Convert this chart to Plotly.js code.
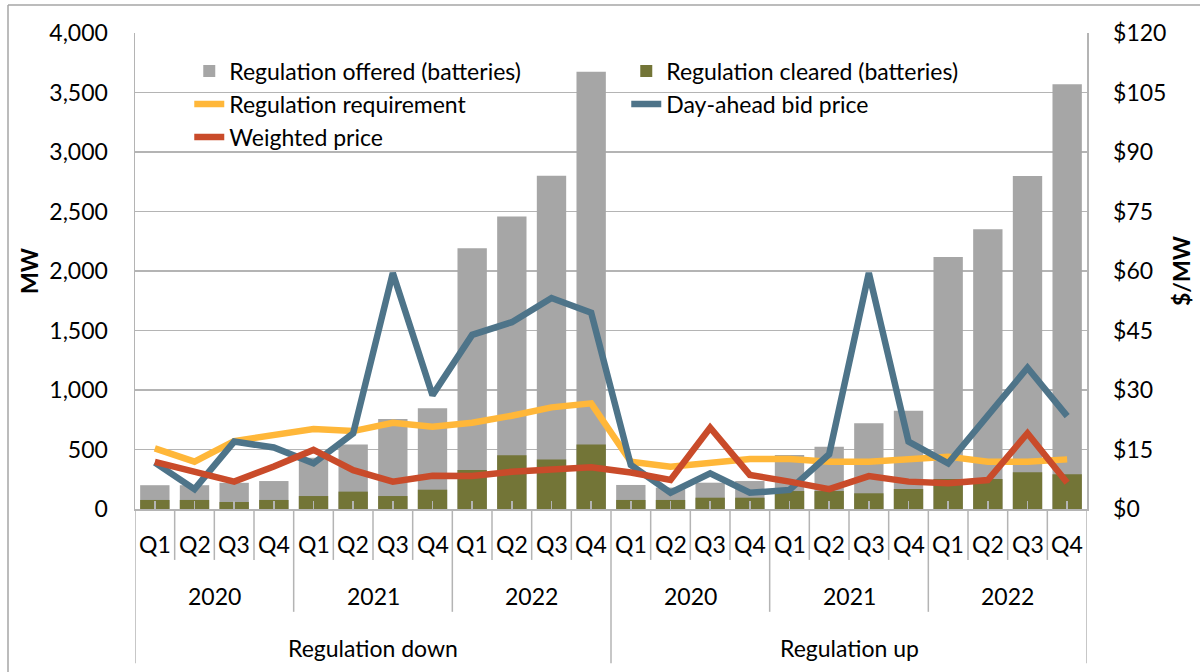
<!DOCTYPE html>
<html>
<head>
<meta charset="utf-8">
<script src="https://cdn.plot.ly/plotly-3.0.1.min.js"></script>
<style>html,body{margin:0;padding:0;background:#fff;}#chart{width:1200px;height:672px;}</style>
</head>
<body>
<div id="chart"></div>
<script>
// ---- data ----
const groups = ["Regulation down", "Regulation up"];
const years = ["2020", "2021", "2022"];
const quarters = ["Q1", "Q2", "Q3", "Q4"];

const offered = [200, 200, 220, 235, 430, 543, 756, 846, 2191, 2457, 2801, 3675,
                 202, 180, 221, 235, 454, 524, 720, 826, 2118, 2350, 2798, 3569];
const cleared = [76, 76, 59, 76, 109, 146, 109, 162, 328, 451, 415, 541,
                 76, 76, 95, 95, 151, 151, 132, 168, 252, 252, 308, 291];
const requirement = [510, 398, 571, 622, 672, 655, 725, 692, 725, 784, 854, 888,
                     398, 356, 392, 420, 420, 398, 398, 417, 440, 398, 398, 417];
const dayAheadBid = [11.7, 5.0, 17.0, 15.5, 11.5, 19.1, 59.5, 28.7, 43.9, 47.1, 53.2, 49.5,
                     11.1, 4.1, 9.0, 4.1, 4.8, 13.8, 59.5, 17.0, 11.5, 23.7, 35.6, 23.4];
const weightedPrice = [11.9, 9.4, 6.9, 10.7, 14.9, 9.8, 6.9, 8.4, 8.3, 9.4, 10.0, 10.5,
                       9.2, 7.3, 20.5, 8.6, 6.9, 5.0, 8.3, 6.9, 6.5, 7.3, 19.1, 6.6];

// ---- build category positions ----
const labels = [];
groups.forEach(g => years.forEach(y => quarters.forEach(q => labels.push(q))));
const xs = labels.map((_, i) => i);
const n = xs.length;
const perGroup = years.length * quarters.length;

const FONT = "Lato, 'Open Sans', sans-serif";
const GRID = "#b4b4b4";
const FS = 23;

const traces = [
  {type: "bar", name: "Regulation offered (batteries)", x: xs, y: offered,
   marker: {color: "#a6a6a6"}, width: 0.74, yaxis: "y"},
  {type: "bar", name: "Regulation cleared (batteries)", x: xs, y: cleared,
   marker: {color: "#737537"}, width: 0.74, yaxis: "y"},
  {type: "scatter", mode: "lines", name: "Regulation requirement", x: xs, y: requirement,
   line: {color: "#ffb739", width: 6.5}, yaxis: "y"},
  {type: "scatter", mode: "lines", name: "Day-ahead bid price", x: xs, y: dayAheadBid,
   line: {color: "#4e7489", width: 6.5}, yaxis: "y2"},
  {type: "scatter", mode: "lines", name: "Weighted price", x: xs, y: weightedPrice,
   line: {color: "#c94b2a", width: 6.5}, yaxis: "y2"}
];

const shapes = [];
const annotations = [];
const yQ = -0.107, yY = -0.216, yG = -0.324;
for (let k = 0; k <= n; k++) {
  let y1 = yQ;
  if (k % perGroup === 0) y1 = yG;
  else if (k % quarters.length === 0) y1 = yY;
  shapes.push({type: "line", xref: "x", yref: "paper", x0: k - 0.5, x1: k - 0.5,
               y0: 0, y1: y1, line: {color: GRID, width: 1.5}});
}
// quarter labels
labels.forEach((q, i) => annotations.push({xref: "x", yref: "paper", x: i, y: -0.074,
  text: q, showarrow: false, yanchor: "middle", font: {size: FS, color: "#000", family: FONT}}));
// year labels
groups.forEach((g, gi) => years.forEach((yr, yi) => {
  const c = gi * perGroup + yi * quarters.length + (quarters.length - 1) / 2;
  annotations.push({xref: "x", yref: "paper", x: c, y: -0.183, text: yr, showarrow: false,
    yanchor: "middle", font: {size: FS, color: "#000", family: FONT}});
}));
// group labels
groups.forEach((g, gi) => {
  const c = gi * perGroup + (perGroup - 1) / 2;
  annotations.push({xref: "x", yref: "paper", x: c, y: -0.292, text: g, showarrow: false,
    yanchor: "middle", font: {size: FS, color: "#000", family: FONT}});
});
// outer chart border (left and top)
shapes.push({type: "line", xref: "paper", yref: "paper", x0: -0.1334, x1: -0.1334, y0: 1.0588, y1: -0.4,
  line: {color: "#a6a6a6", width: 1.5}});
shapes.push({type: "line", xref: "paper", yref: "paper", x0: -0.1334, x1: 1.2, y0: 1.0588, y1: 1.0588,
  line: {color: "#a6a6a6", width: 1.5}});

const layout = {
  width: 1200, height: 672,
  margin: {l: 135, r: 113, t: 33, b: 163},
  paper_bgcolor: "#fff", plot_bgcolor: "#fff",
  barmode: "overlay",
  font: {family: FONT, size: FS, color: "#000"},
  showlegend: true,
  legend: {orientation: "h", x: 0.057, y: 0.965, xanchor: "left", yanchor: "top",
           entrywidth: 392, entrywidthmode: "pixels", bgcolor: "rgba(0,0,0,0)",
           font: {size: FS, family: FONT, color: "#000"}, traceorder: "normal"},
  xaxis: {range: [-0.5, n - 0.5], tickvals: xs, ticktext: labels.map(() => ""),
          ticks: "inside", ticklen: 8, tickcolor: GRID, tickwidth: 1.5,
          showgrid: false, zeroline: false, showline: true, linecolor: GRID, linewidth: 2,
          fixedrange: true},
  yaxis: {range: [0, 4000], dtick: 500, tickformat: ",d", showgrid: true, gridcolor: GRID, gridwidth: 1.5,
          zeroline: false, showline: true, linecolor: GRID, linewidth: 1.5, ticks: "",
          ticklabelstandoff: 21, tickfont: {size: FS},
          title: {text: "<b>MW</b>", font: {size: 23}, standoff: 4}},
  yaxis2: {range: [0, 120], dtick: 15, tickprefix: "$", overlaying: "y", side: "right",
           showgrid: false, zeroline: false, showline: true, linecolor: GRID, linewidth: 1.5, ticks: "",
           ticklabelstandoff: 20, tickfont: {size: FS},
           title: {text: "<b>$/MW</b>", font: {size: 23}, standoff: 8}},
  shapes: shapes,
  annotations: annotations
};

Plotly.newPlot("chart", traces, layout, {displayModeBar: false, staticPlot: true});
</script>
</body>
</html>
